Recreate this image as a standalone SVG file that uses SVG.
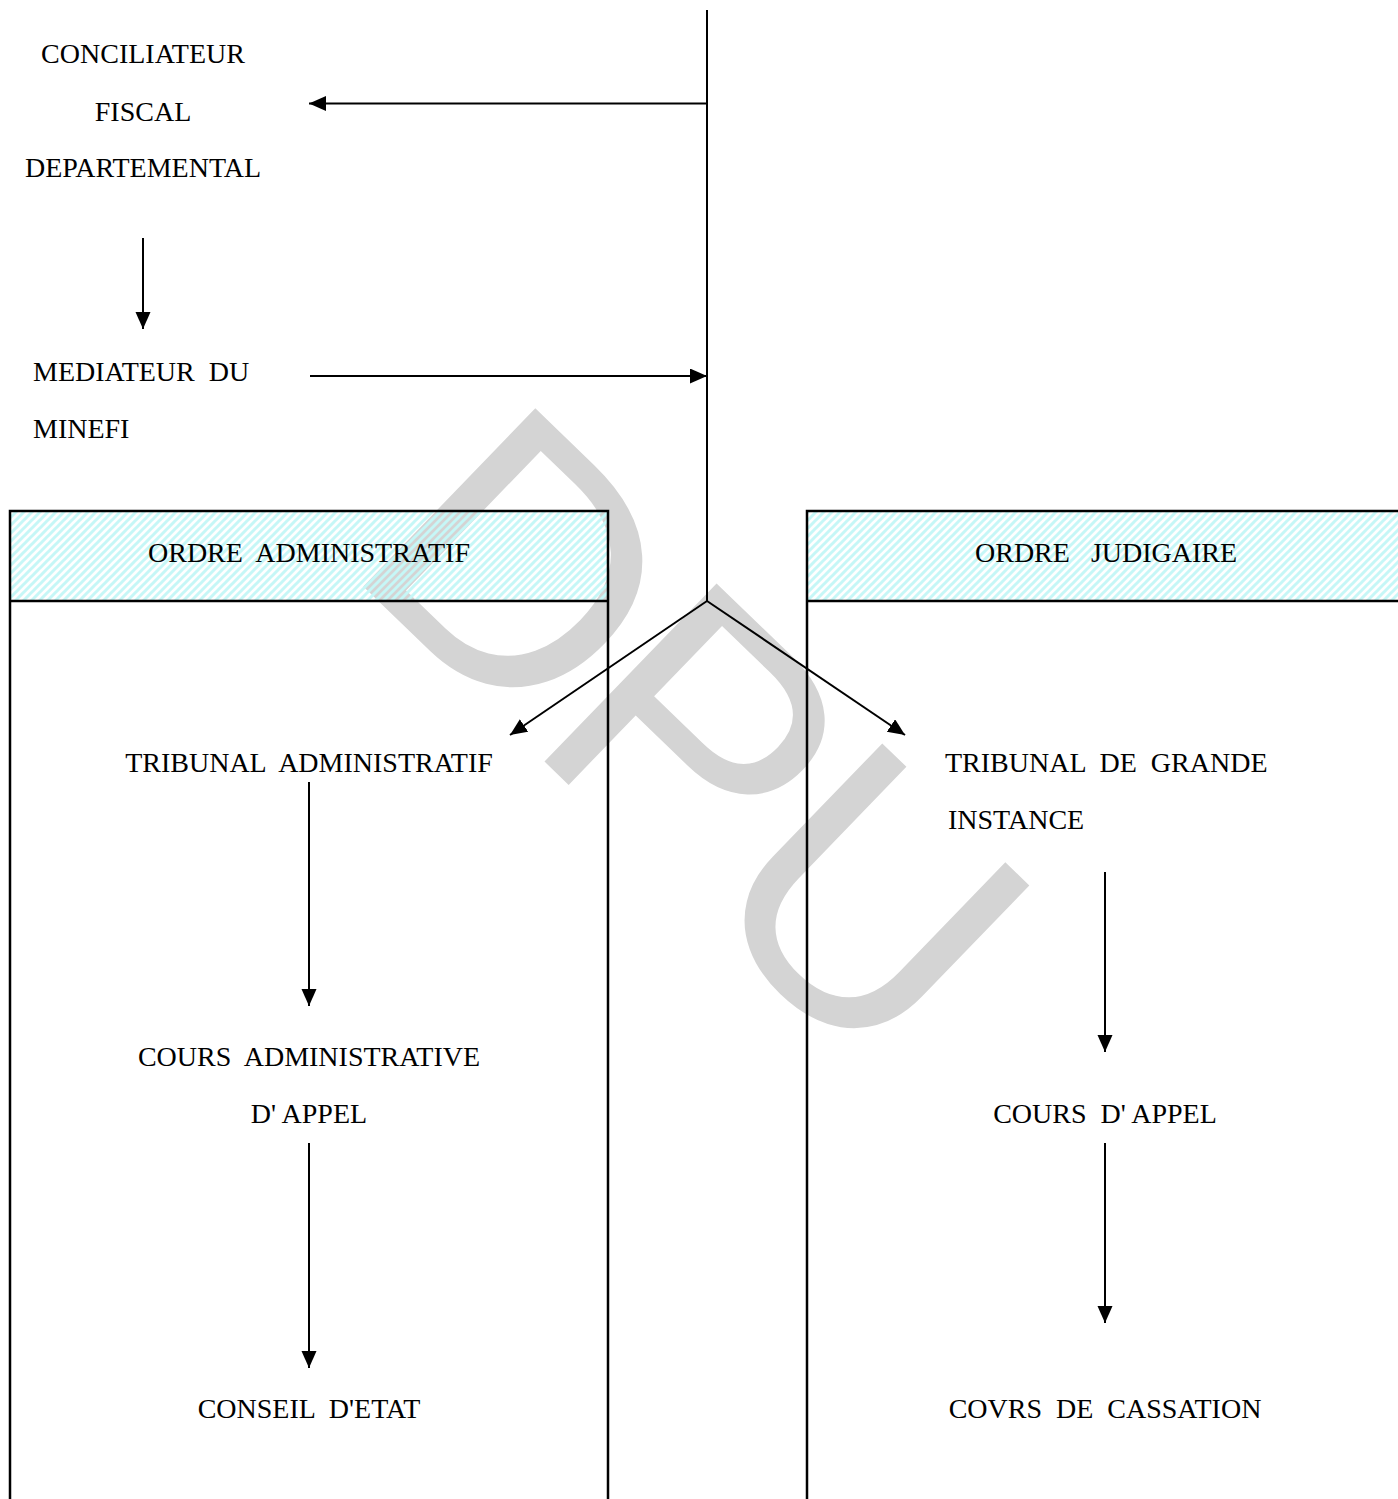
<svg xmlns="http://www.w3.org/2000/svg" width="1398" height="1499" viewBox="0 0 1398 1499">
  <style>
    text.t { font-family: 'Liberation Serif', 'Times New Roman', Times, serif; font-size: 28px; fill: #000; white-space: pre; }
    .c { text-anchor: middle; }
    .ln { stroke: #000; stroke-width: 2; fill: none; }
    .box { stroke: #000; stroke-width: 2.5; fill: none; }
    .wm { font-family: 'Liberation Sans', Arial, sans-serif; font-size: 360px; letter-spacing: -8px; fill: #d4d4d4; }
  </style>
  <defs>
    <pattern id="hatch" patternUnits="userSpaceOnUse" width="8" height="8">
      <path d="M-2,2 L2,-2 M0,8 L8,0 M6,10 L10,6" stroke="#c6f7f7" stroke-width="3"/>
    </pattern>
    <marker id="ah" markerUnits="userSpaceOnUse" markerWidth="18" markerHeight="16" refX="17" refY="7.5" orient="auto">
      <path d="M0,0 L17,7.5 L0,15 z" fill="#000"/>
    </marker>
  </defs>
  <rect width="1398" height="1499" fill="#fff"/>

  <text class="wm" transform="translate(342,566) rotate(44)">DPU</text>

  <g id="ordre-administratif">
    <rect x="10" y="511" width="598" height="90" fill="url(#hatch)"/>
    <path class="box" d="M10,1505 V511 H608 V1505 M10,601 H608"/>
    <text class="t c" x="309" y="562" xml:space="preserve">ORDRE  ADMINISTRATIF</text>
  </g>
  <g id="ordre-judiciaire">
    <rect x="807" y="511" width="600" height="90" fill="url(#hatch)"/>
    <path class="box" d="M807,1505 V511 H1410 M807,601 H1410"/>
    <text class="t" x="975" y="562" xml:space="preserve">ORDRE   JUDIGAIRE</text>
  </g>

  <g id="conciliateur">
    <text class="t c" x="143" y="63">CONCILIATEUR</text>
    <text class="t c" x="143" y="121">FISCAL</text>
    <text class="t c" x="143" y="177">DEPARTEMENTAL</text>
  </g>
  <g id="mediateur">
    <text class="t" x="33" y="381" xml:space="preserve">MEDIATEUR  DU</text>
    <text class="t" x="33" y="438">MINEFI</text>
  </g>
  <g id="tribunal-administratif">
    <text class="t c" x="309" y="772" xml:space="preserve">TRIBUNAL  ADMINISTRATIF</text>
  </g>
  <g id="cours-administrative">
    <text class="t c" x="309" y="1066" xml:space="preserve">COURS  ADMINISTRATIVE</text>
    <text class="t c" x="309" y="1123">D' APPEL</text>
  </g>
  <g id="conseil-etat">
    <text class="t c" x="309" y="1418" xml:space="preserve">CONSEIL  D'ETAT</text>
  </g>
  <g id="tribunal-grande-instance">
    <text class="t" x="945" y="772" xml:space="preserve">TRIBUNAL  DE  GRANDE</text>
    <text class="t" x="948" y="829">INSTANCE</text>
  </g>
  <g id="cours-appel">
    <text class="t c" x="1105" y="1123" xml:space="preserve">COURS  D' APPEL</text>
  </g>
  <g id="cour-cassation">
    <text class="t c" x="1105" y="1418" xml:space="preserve">COVRS  DE  CASSATION</text>
  </g>

  <g id="connectors">
    <line class="ln" x1="707" y1="10" x2="707" y2="601"/>
    <line class="ln" x1="707" y1="103.5" x2="309" y2="103.5" marker-end="url(#ah)"/>
    <line class="ln" x1="143" y1="238" x2="143" y2="329" marker-end="url(#ah)"/>
    <line class="ln" x1="310" y1="376" x2="707" y2="376" marker-end="url(#ah)"/>
    <line class="ln" x1="707" y1="601" x2="510" y2="735" marker-end="url(#ah)"/>
    <line class="ln" x1="707" y1="601" x2="905" y2="735" marker-end="url(#ah)"/>
    <line class="ln" x1="309" y1="782" x2="309" y2="1006" marker-end="url(#ah)"/>
    <line class="ln" x1="309" y1="1143" x2="309" y2="1368" marker-end="url(#ah)"/>
    <line class="ln" x1="1105" y1="872" x2="1105" y2="1052" marker-end="url(#ah)"/>
    <line class="ln" x1="1105" y1="1143" x2="1105" y2="1323" marker-end="url(#ah)"/>
  </g>
</svg>
